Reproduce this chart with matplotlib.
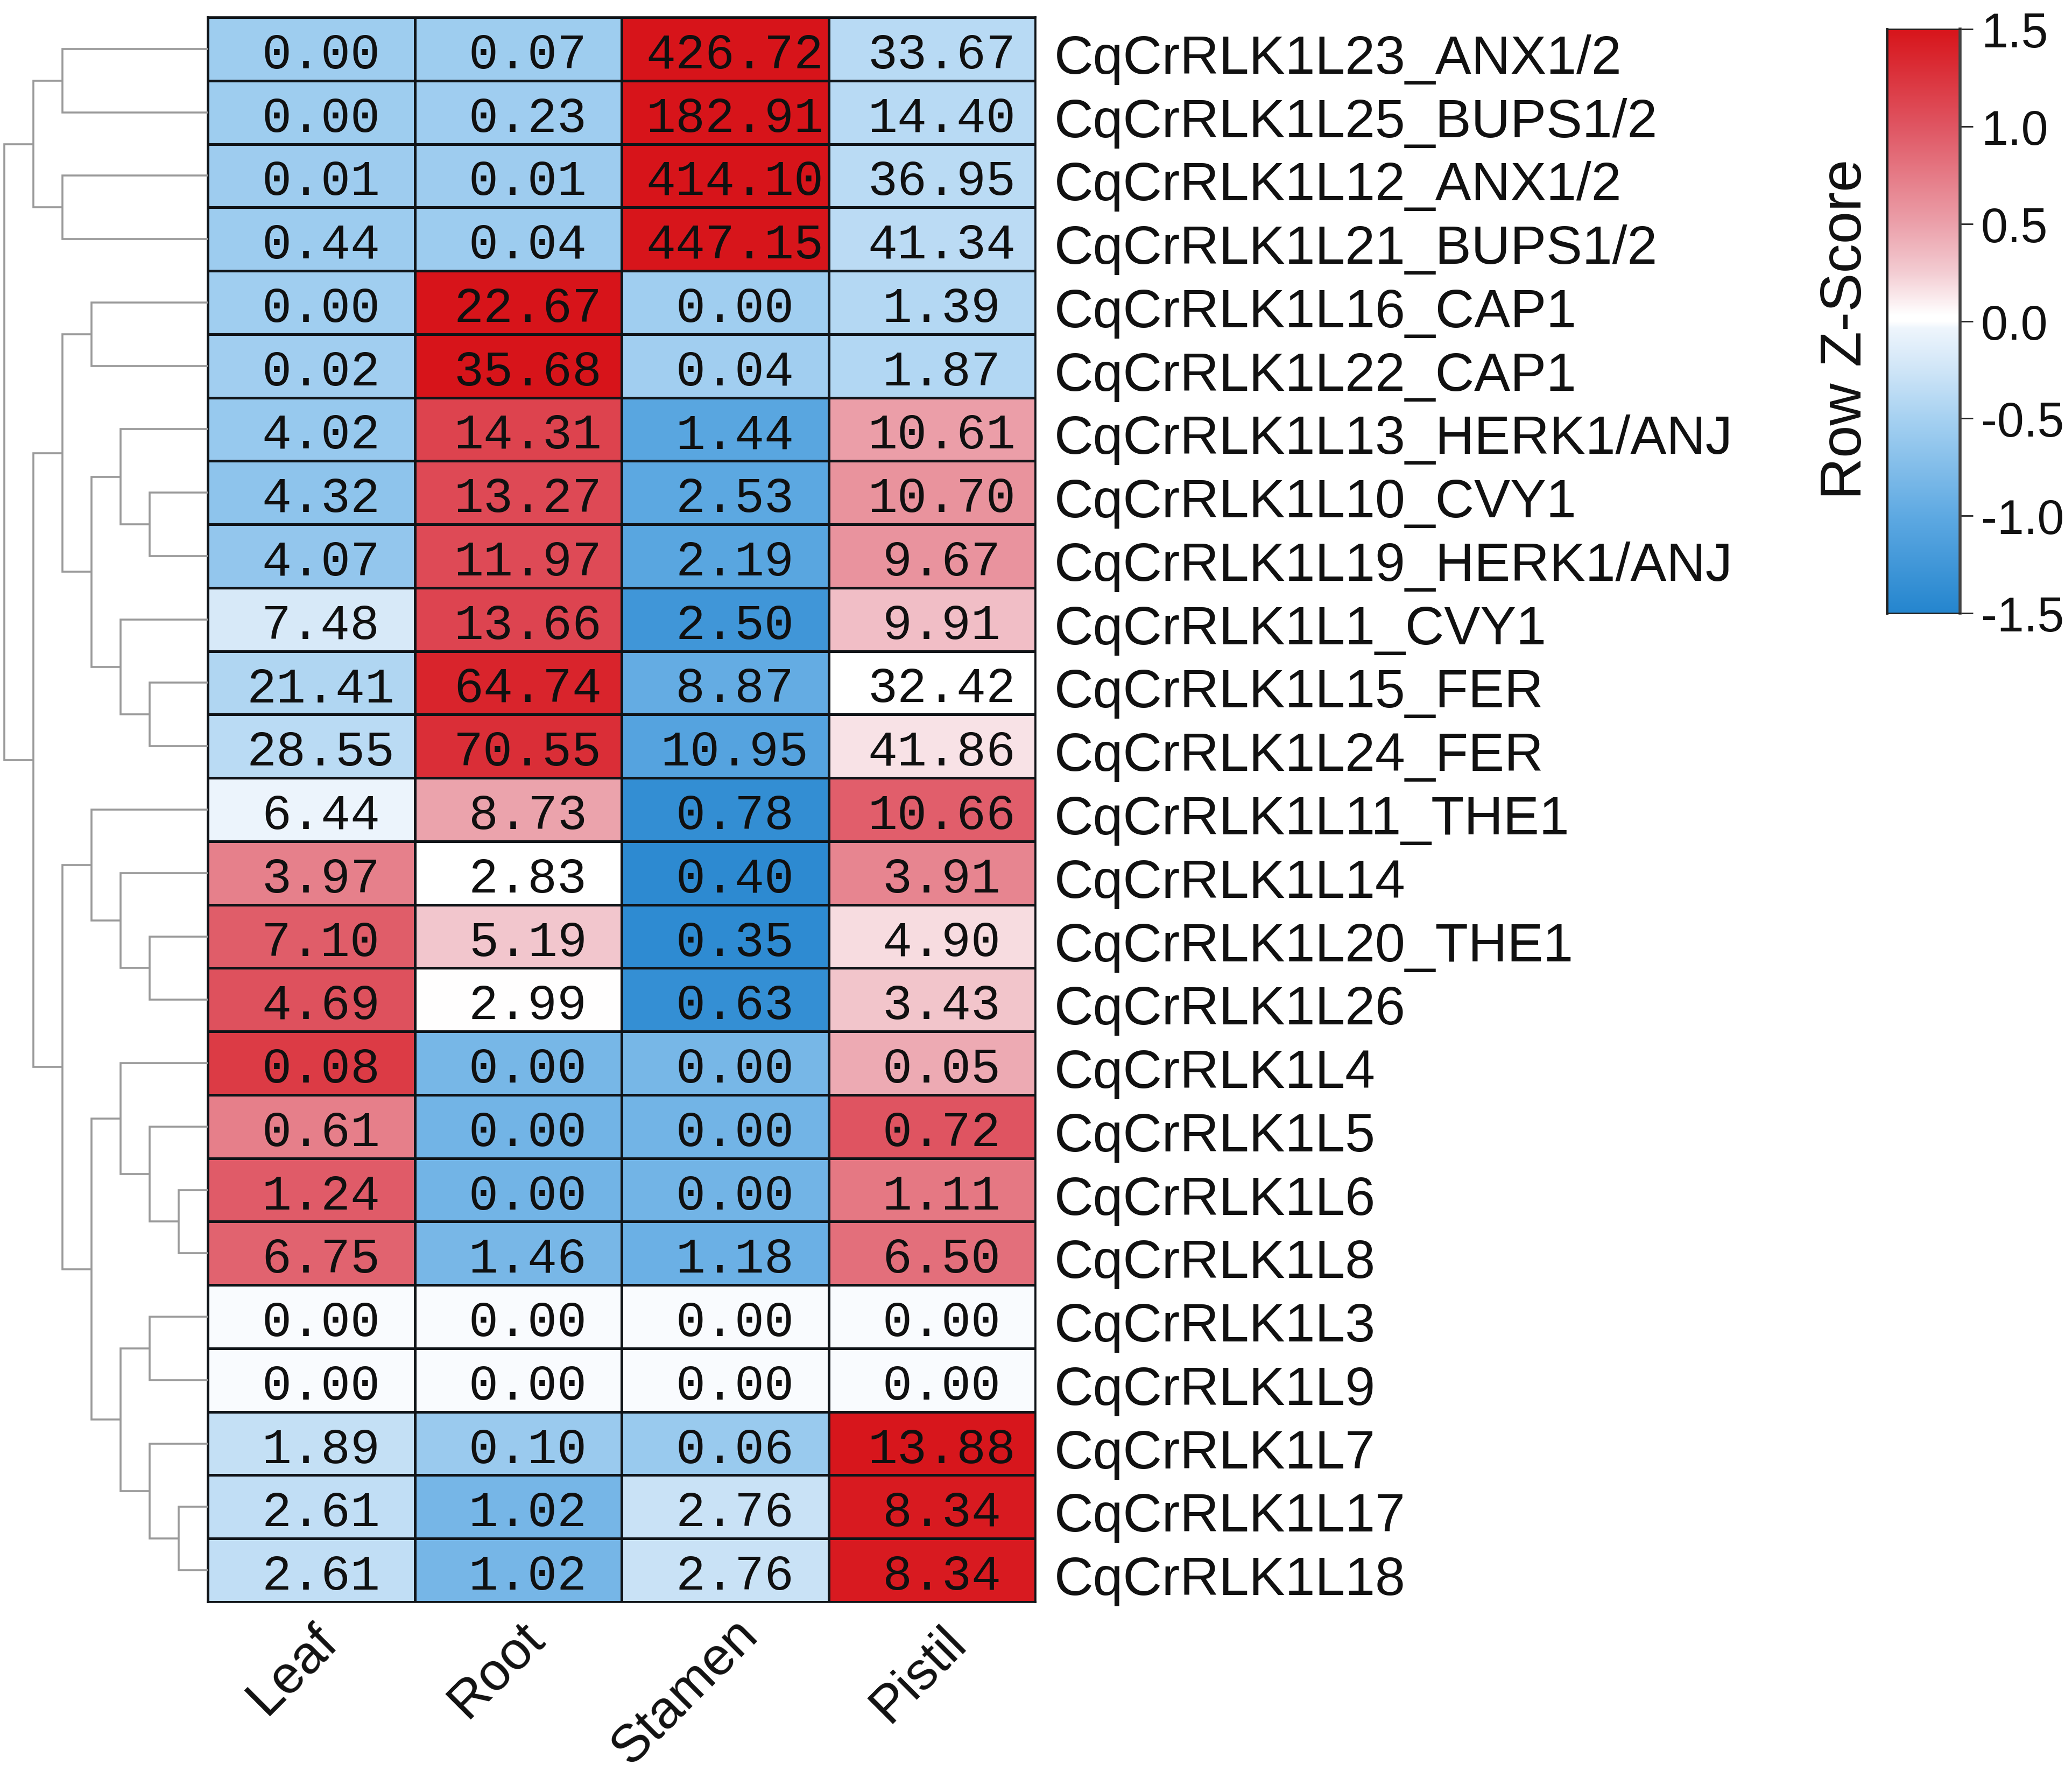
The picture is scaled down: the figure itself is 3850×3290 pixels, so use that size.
import numpy as np
import matplotlib
matplotlib.use("Agg")
import matplotlib.pyplot as plt
from matplotlib.colors import LinearSegmentedColormap, Normalize
from matplotlib.transforms import offset_copy

W, H = 3850, 3291
plt.rcParams['axes.unicode_minus'] = False

tissues = ["Leaf", "Root", "Stamen", "Pistil"]
genes = ["CqCrRLK1L23_ANX1/2", "CqCrRLK1L25_BUPS1/2", "CqCrRLK1L12_ANX1/2", "CqCrRLK1L21_BUPS1/2",
         "CqCrRLK1L16_CAP1", "CqCrRLK1L22_CAP1", "CqCrRLK1L13_HERK1/ANJ", "CqCrRLK1L10_CVY1",
         "CqCrRLK1L19_HERK1/ANJ", "CqCrRLK1L1_CVY1", "CqCrRLK1L15_FER", "CqCrRLK1L24_FER",
         "CqCrRLK1L11_THE1", "CqCrRLK1L14", "CqCrRLK1L20_THE1", "CqCrRLK1L26", "CqCrRLK1L4",
         "CqCrRLK1L5", "CqCrRLK1L6", "CqCrRLK1L8", "CqCrRLK1L3", "CqCrRLK1L9", "CqCrRLK1L7",
         "CqCrRLK1L17", "CqCrRLK1L18"]
leaf_vals = [0.00, 0.00, 0.01, 0.44, 0.00, 0.02, 4.02, 4.32, 4.07, 7.48, 21.41, 28.55, 6.44, 3.97, 7.10, 4.69,
             0.08, 0.61, 1.24, 6.75, 0.00, 0.00, 1.89, 2.61, 2.61]
root_vals = [0.07, 0.23, 0.01, 0.04, 22.67, 35.68, 14.31, 13.27, 11.97, 13.66, 64.74, 70.55, 8.73, 2.83, 5.19, 2.99,
             0.00, 0.00, 0.00, 1.46, 0.00, 0.00, 0.10, 1.02, 1.02]
stamen_vals = [426.72, 182.91, 414.10, 447.15, 0.00, 0.04, 1.44, 2.53, 2.19, 2.50, 8.87, 10.95, 0.78, 0.40, 0.35, 0.63,
               0.00, 0.00, 0.00, 1.18, 0.00, 0.00, 0.06, 2.76, 2.76]
pistil_vals = [33.67, 14.40, 36.95, 41.34, 1.39, 1.87, 10.61, 10.70, 9.67, 9.91, 32.42, 41.86, 10.66, 3.91, 4.90, 3.43,
               0.05, 0.72, 1.11, 6.50, 0.00, 0.00, 13.88, 8.34, 8.34]
cbar_ticks = [-1.5, -1.0, -0.5, 0.0, 0.5, 1.0, 1.5]
cmap_stops = [(0.0, "#2485CE"), (1/6, "#5EA9E2"), (1/3, "#A6D1F1"), (5/12, "#CFE5F7"), (0.488, "#EEF5FC"),
              (0.5, "#FFFFFF"), (0.51, "#FFFFFF"),
              (7/12, "#F3CCD2"), (2/3, "#EBA0AA"), (5/6, "#DF5562"), (1.0, "#D7141A")]
# dendrogram: (level, child, child); integers are row indexes
tree = (0,
        (1, (2, 0, 1), (2, 2, 3)),
        (1,
         (2, (3, 4, 5),
          (3, (4, 6, (5, 7, 8)), (4, 9, (5, 10, 11)))),
         (2, (3, 12, (4, 13, (5, 14, 15))),
          (3, (4, 16, (5, 17, (6, 18, 19))),
           (4, (5, 20, 21), (5, 22, (6, 23, 24)))))))

values = np.column_stack([leaf_vals, root_vals, stamen_vals, pistil_vals])
sd = values.std(axis=1, ddof=1)
z = np.where(sd[:, None] > 0, (values - values.mean(axis=1, keepdims=True)) / np.where(sd > 0, sd, 1)[:, None], -0.014)

cmap = LinearSegmentedColormap.from_list("rowz", cmap_stops, N=1024)
norm = Normalize(-1.5, 1.5)


def axpx(fig, x0, y0, x1, y1):
    return fig.add_axes([x0 / W, 1 - y1 / H, (x1 - x0) / W, (y1 - y0) / H])


fig = plt.figure(figsize=(W / 100, H / 100), dpi=100, facecolor="white")
HX0, HX1, HY0, HY1 = 386, 1924, 33, 2977
ax = axpx(fig, HX0, HY0, HX1, HY1)
mesh = ax.pcolormesh(np.arange(5), np.arange(26), z, cmap=cmap, norm=norm, edgecolors="#101418", linewidth=2.2)
ax.set_xlim(0, 4)
ax.set_ylim(25, 0)
ax.tick_params(left=False, bottom=False, labelleft=False, labelbottom=False)
for s in ax.spines.values():
    s.set_linewidth(2.6)
    s.set_color("#101418")

cell_tr = offset_copy(ax.transData, fig=fig, x=18, y=-11, units="dots")
label_tr = offset_copy(ax.transAxes, fig=fig, x=-5, y=-19, units="dots")
for r in range(values.shape[0]):
    for c in range(values.shape[1]):
        ax.text(c + 0.5, r + 0.5, f"{values[r, c]:.2f}", transform=cell_tr, ha="center", va="center",
                family="Liberation Mono", fontsize=66, color="#101010")
    ax.text(1.0 + 40 / (HX1 - HX0), 1 - (r + 0.5) / 25, genes[r], transform=label_tr, ha="left", va="center",
            family="Liberation Sans", fontsize=72.3, color="#111111")

xt_dx = [2, 2, 14, 16]
xt_dy = [-25, -20, -14, -28]
for c, name in enumerate(tissues):
    tr = offset_copy(ax.transData, fig=fig, x=xt_dx[c], y=xt_dy[c], units="dots")
    ax.text(c + 0.5, 25, name, transform=tr, rotation=45, ha="right", va="top", rotation_mode="anchor",
            family="Liberation Sans", fontsize=71, color="#111111", clip_on=False)

# dendrogram
dax = axpx(fig, 8, HY0, HX0, HY1)
dax.set_xlim(0, 7)
dax.set_ylim(25, 0)
dax.axis("off")


def draw(node):
    if isinstance(node, int):
        return 7, node + 0.5
    level, a, b = node
    xa, ya = draw(a)
    xb, yb = draw(b)
    dax.plot([xa, level, level, xb], [ya, ya, yb, yb], color="#9a9a9a", lw=2.6, solid_joinstyle="miter",
             solid_capstyle="butt", clip_on=False)
    return level, (ya + yb) / 2


draw(tree)

# colour bar
cax = axpx(fig, 3506, 55, 3642, 1140)
cb = fig.colorbar(mesh, cax=cax, ticks=cbar_ticks)
cb.outline.set_visible(False)
for name, lw, col in [("left", 3.5, "#222222"), ("top", 2.0, "#222222"), ("bottom", 2.0, "#222222"), ("right", 4.0, "#444444")]:
    cax.spines[name].set_visible(True)
    cax.spines[name].set_linewidth(lw)
    cax.spines[name].set_color(col)
cax.tick_params(axis="y", length=17, width=2.0, color="#222222", pad=11)
cax.set_yticklabels([f"{t:.1f}" for t in cbar_ticks], family="Liberation Sans", fontsize=64.5, color="#111111")
fig.text(3430 / W, 1 - 612 / H, "Row Z-Score", rotation=90, ha="center", va="center",
         family="Liberation Sans", fontsize=78, color="#111111")

fig.savefig("out.png", dpi=100, facecolor="white")
